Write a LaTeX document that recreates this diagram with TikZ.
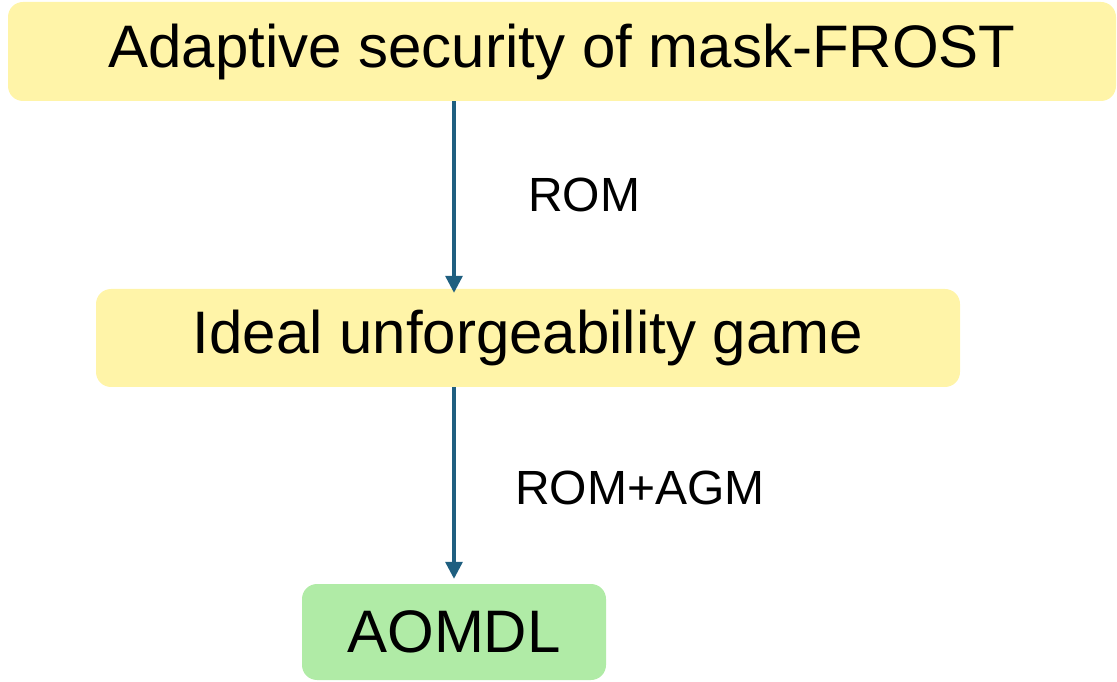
\documentclass[tikz,border=0pt]{standalone}
\usepackage{fontspec}
\setmainfont{Liberation Sans}
\usetikzlibrary{arrows.meta,calc}
\definecolor{boxyellow}{HTML}{FFF4A8}
\definecolor{boxgreen}{HTML}{B0EBA6}
\definecolor{arrowblue}{HTML}{1F5F80}
\tikzset{
  stage/.style={rounded corners=15pt, inner sep=0pt, align=center,
    font=\fontsize{60}{63}\selectfont},
  link/.style={draw=arrowblue, line width=3.2pt,
    -{Triangle[width=17pt,length=17pt]}},
  linklabel/.style={font=\fontsize{48}{51}\selectfont, inner sep=0pt}
}
\begin{document}
\begin{tikzpicture}[x=1pt,y=1pt]
  \useasboundingbox (0,0) rectangle (1117,681);
  \node[stage, fill=boxyellow, minimum width=1108pt, minimum height=99pt]
    (adaptive) at (562,629.5) {Adaptive security of mask-FROST};
  \node[stage, fill=boxyellow, minimum width=864pt, minimum height=98pt]
    (ideal) at (528,343) {Ideal unforgeability game};
  \node[stage, fill=boxgreen, minimum width=304pt, minimum height=96pt]
    (aomdl) at (454,49) {AOMDL};
  \draw[link] (aomdl.north |- adaptive.south) -- ($(aomdl.north |- ideal.north)+(0,-4)$);
  \draw[link] (aomdl.north |- ideal.south) -- ($(aomdl.north)+(0,5)$);
  \node[linklabel] (rom) at (584,486) {ROM};
  \node[linklabel] (romagm) at (640,193) {ROM+AGM};
\end{tikzpicture}
\end{document}
